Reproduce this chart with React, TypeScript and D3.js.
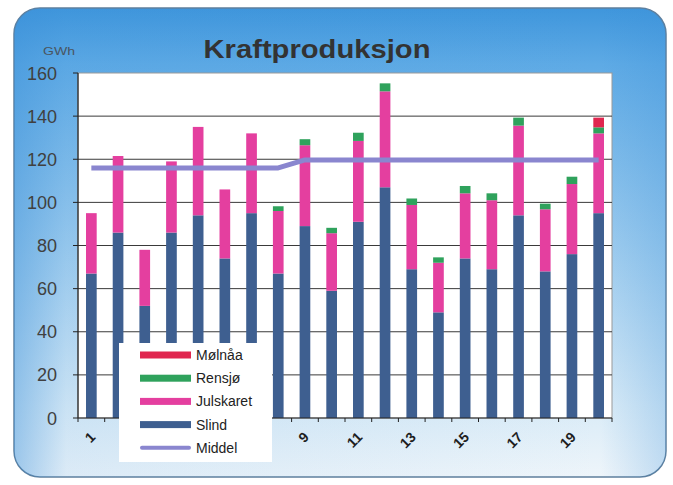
import React from 'react';
import * as d3 from 'd3';

const categories = ['1','2','3','4','5','6','7','8','9','10','11','12','13','14','15','16','17','18','19','20'];
const slind = [67, 86, 52, 86, 94, 74, 95, 67, 89, 59, 91, 107, 69, 49, 74, 69, 94, 68, 76, 95];
const julskaret = [28, 35.5, 26, 33, 41, 32, 37, 29, 37.5, 26.7, 37.5, 44.5, 29.8, 23, 30.2, 32, 41.6, 28.8, 32.5, 37];
const rensjo = [0, 0, 0, 0, 0, 0, 0, 2.2, 2.8, 2.5, 3.8, 3.7, 3, 2.5, 3.4, 3.2, 3.7, 2.6, 3.4, 2.8];
const molnaa = [0, 0, 0, 0, 0, 0, 0, 0, 0, 0, 0, 0, 0, 0, 0, 0, 0, 0, 0, 4.5];
const middel = [116, 116, 116, 116, 116, 116, 116, 116, 119.7, 119.7, 119.7, 119.7, 119.7, 119.7, 119.7, 119.7, 119.7, 119.7, 119.7, 119.7];
const yTicks = [0, 20, 40, 60, 80, 100, 120, 140, 160];
const xTickLabels = ['1', '3', '5', '7', '9', '11', '13', '15', '17', '19'];

const keys = ['Slind', 'Julskaret', 'Rensjø', 'Mølnåa'];
const colors: Record<string, string> = {
  'Slind': '#3e5f90',
  'Julskaret': '#e43f9f',
  'Rensjø': '#2fa25c',
  'Mølnåa': '#e0264f',
  'Middel': '#8a86cf',
};
const legendItems = ['Mølnåa', 'Rensjø', 'Julskaret', 'Slind', 'Middel'];

export default function App() {
  const W = 673, H = 485;
  const plot = { left: 78, right: 612, top: 73, bottom: 418 };
  const x = d3.scaleBand<string>().domain(categories).range([plot.left, plot.right]).paddingInner(0.6).paddingOuter(0.3);
  const xc = d3.scaleBand<string>().domain(categories).range([plot.left, plot.right]);
  const y = d3.scaleLinear().domain([0, 160]).range([plot.bottom, plot.top]);

  const table = categories.map((c, i) => ({
    cat: c,
    'Slind': slind[i],
    'Julskaret': julskaret[i],
    'Rensjø': rensjo[i],
    'Mølnåa': molnaa[i],
  }));
  const stacked = d3.stack<any>().keys(keys)(table);

  const line = d3.line<number>()
    .x((_, i) => (xc(categories[i]) as number) + xc.bandwidth() / 2)
    .y(d => y(d));

  const legend = { x: 119, y: 343, w: 153, h: 119 };

  return (
    <svg width={W} height={H} style={{ position: 'absolute', left: 0, top: 0, fontFamily: 'Arial, "Liberation Sans", sans-serif' }}>
      <defs>
        <linearGradient id="bgv" x1="0" y1="0" x2="0" y2="1">
          <stop offset="0" stopColor="#3f96dc" />
          <stop offset="0.12" stopColor="#5eaae5" />
          <stop offset="0.5" stopColor="#9ccbee" />
          <stop offset="0.85" stopColor="#d9ebf7" />
          <stop offset="1" stopColor="#eef5fa" />
        </linearGradient>
        <linearGradient id="bgh" x1="0" y1="0" x2="1" y2="0">
          <stop offset="0" stopColor="#3a8fd8" stopOpacity="0.45" />
          <stop offset="0.08" stopColor="#3a8fd8" stopOpacity="0.1" />
          <stop offset="0.9" stopColor="#3a8fd8" stopOpacity="0" />
          <stop offset="1" stopColor="#3a8fd8" stopOpacity="0.25" />
        </linearGradient>
      </defs>
      <rect x={0} y={0} width={W} height={H} fill="#ffffff" />
      <rect x={14} y={8} width={652} height={469} rx={26} ry={26} fill="url(#bgv)" stroke="#5f7f9c" strokeWidth={1.5} />
      <rect x={14} y={8} width={652} height={469} rx={26} ry={26} fill="url(#bgh)" />
      <text x={317} y={58} textAnchor="middle" fontSize={26} fontWeight="bold" fill="#333" textLength={227} lengthAdjust="spacingAndGlyphs">Kraftproduksjon</text>
      <text x={43} y={55} fontSize={10} fill="#4a5560" textLength={32} lengthAdjust="spacingAndGlyphs">GWh</text>

      <rect x={plot.left} y={plot.top} width={plot.right - plot.left} height={plot.bottom - plot.top} fill="#ffffff" stroke="#999" strokeWidth={1} />
      {yTicks.filter(t => t > 0 && t < 160).map(t => (
        <line key={t} x1={plot.left} x2={plot.right} y1={y(t)} y2={y(t)} stroke="#3a3a3a" strokeWidth={1} />
      ))}

      {stacked.map(s => (
        <g key={s.key} fill={colors[s.key]}>
          {s.map((d, i) => (
            d[1] - d[0] > 0 ? (
              <rect key={i} x={x(categories[i])} width={x.bandwidth()} y={y(d[1])} height={y(d[0]) - y(d[1])} />
            ) : null
          ))}
        </g>
      ))}

      <path d={line(middel) || ''} fill="none" stroke={colors['Middel']} strokeWidth={5} strokeLinejoin="round" />

      <line x1={plot.left} x2={plot.left} y1={plot.top} y2={plot.bottom} stroke="#222" strokeWidth={1.2} />
      <line x1={plot.left} x2={plot.right} y1={plot.bottom} y2={plot.bottom} stroke="#222" strokeWidth={1.2} />
      {yTicks.map(t => (
        <g key={t}>
          <line x1={plot.left - 5} x2={plot.left} y1={y(t)} y2={y(t)} stroke="#222" />
          <text x={57} y={y(t) + 6.5} textAnchor="end" fontSize={18} fill="#404040">{t}</text>
        </g>
      ))}
      {categories.map((c, i) => (
        <line key={c} x1={xc(c)} x2={xc(c)} y1={plot.bottom} y2={plot.bottom + 4} stroke="#222" />
      ))}
      <line x1={plot.right} x2={plot.right} y1={plot.bottom} y2={plot.bottom + 4} stroke="#222" />
      {xTickLabels.map(l => {
        const cx = (xc(l) as number) + xc.bandwidth() / 2 - 2;
        const cy = plot.bottom + 13;
        return (
          <text key={l} x={cx} y={cy} textAnchor="end" fontSize={14} fontWeight="bold" fill="#1e1e1e" transform={`rotate(-45 ${cx} ${cy})`} dy="0.7em">{l}</text>
        );
      })}

      <rect x={legend.x} y={legend.y} width={legend.w} height={legend.h} fill="#ffffff" />
      {legendItems.map((k, i) => {
        const cy = 355 + i * 23.2;
        return (
          <g key={k}>
            <rect x={140} y={cy - (k === 'Middel' ? 2 : 3.5)} width={51} height={k === 'Middel' ? 4 : 7} fill={colors[k]} rx={k === 'Middel' ? 2 : 0} />
            <text x={196} y={cy + 5} fontSize={14} fill="#222">{k}</text>
          </g>
        );
      })}
    </svg>
  );
}
